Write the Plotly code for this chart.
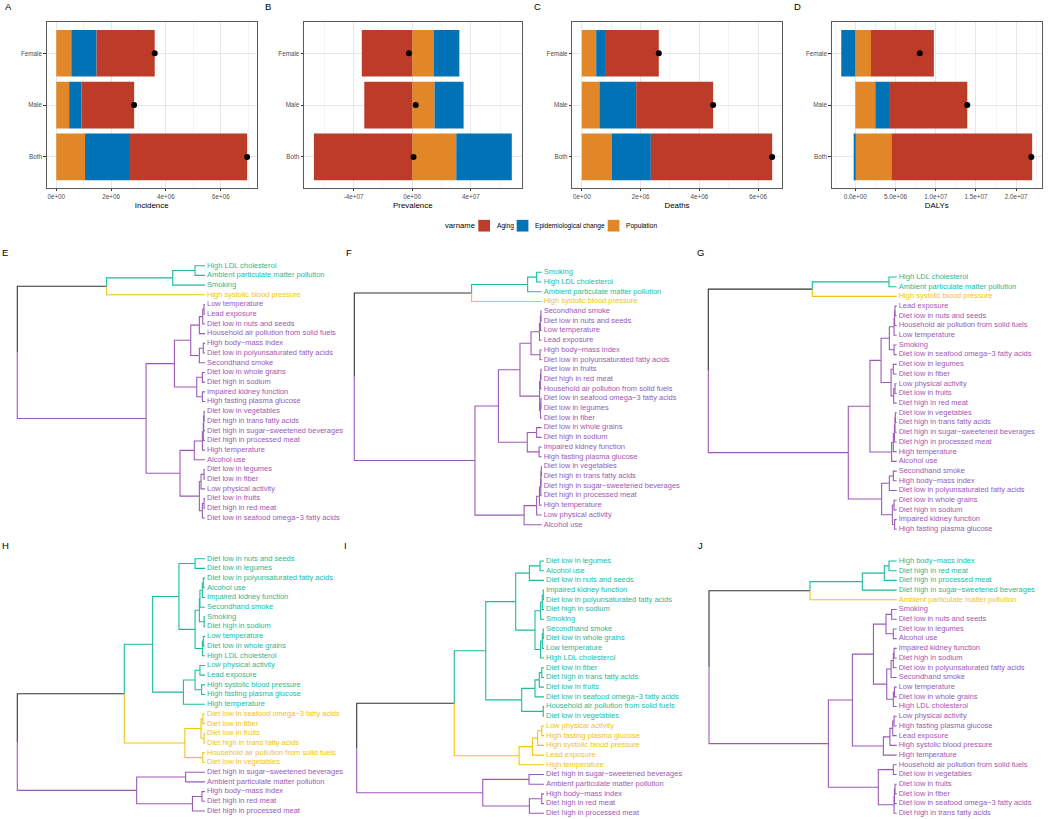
import plotly.graph_objects as go

W, H = 1052, 819
FONT = "Liberation Sans, Arial, Helvetica, sans-serif"

# ---------------- data: decomposition bars ----------------
sexes = ["Both", "Male", "Female"]
component_names = ["Population", "Epidemiological change", "Aging"]
component_colors = ["#E18727", "#0072B5", "#BC3C29"]
legend_names = ["Aging", "Epidemiological change", "Population"]

inc_pop = [1.05e6, 0.47e6, 0.55e6]
inc_epi = [1.64e6, 0.45e6, 0.92e6]
inc_aging = [4.27e6, 1.92e6, 2.12e6]

prev_pop = [3.01e7, 1.53e7, 1.46e7]
prev_epi = [3.79e7, 1.98e7, 1.76e7]
prev_aging = [-6.71e7, -3.27e7, -3.44e7]

death_pop = [1.02e6, 0.60e6, 0.49e6]
death_epi = [1.33e6, 1.25e6, 0.33e6]
death_aging = [4.13e6, 2.62e6, 1.80e6]

daly_pop = [4.49e6, 2.49e6, 1.95e6]
daly_epi = [-0.10e6, 1.70e6, -1.75e6]
daly_aging = [1.75e7, 9.73e6, 7.82e6]

measure_titles = ["Incidence", "Prevalence", "Deaths", "DALYs"]
inc_ticks = [0, 2e6, 4e6, 6e6]
inc_ticklabels = ["0e+00", "2e+06", "4e+06", "6e+06"]
prev_ticks = [-4e7, 0, 4e7]
prev_ticklabels = ["-4e+07", "0e+00", "4e+07"]
death_ticks = [0, 2e6, 4e6, 6e6]
death_ticklabels = ["0e+00", "2e+06", "4e+06", "6e+06"]
daly_ticks = [0, 5e6, 1e7, 1.5e7, 2e7]
daly_ticklabels = ["0.0e+00", "5.0e+06", "1.0e+07", "1.5e+07", "2.0e+07"]

# ---------------- data: dendrograms (height, upper, lower) ----------------
E_tree = [100,
    [52.4, [17.2, [5.3, "High LDL cholesterol", "Ambient particulate matter pollution"], "Smoking"],
     "High systolic blood pressure"],
    [31.4,
     [16.3,
      [7.6,
       [3.0, [1.2, [0.5, "Low temperature", "Lead exposure"], "Diet low in nuts and seeds"],
        "Household air pollution from solid fuels"],
       [3.0, [0.9, "High body\u2212mass index", "Diet low in polyunsaturated fatty acids"], "Secondhand smoke"]],
      [4.4, [1.4, "Diet low in whole grains", "Diet high in sodium"],
       [1.4, "Impaired kidney function", "High fasting plasma glucose"]]],
     [13.3,
      [5.7, [1.4, [0.9, [0.7, [0.5, "Diet low in vegetables", "Diet high in trans fatty acids"],
                          "Diet high in sugar\u2212sweetened beverages"], "Diet high in processed meat"],
             "High temperature"], "Alcohol use"],
      [3.0, [2.1, [0.5, "Diet low in legumes", "Diet low in fiber"], "Low physical activity"],
       [1.4, [0.5, "Diet low in fruits", "Diet high in red meat"], "Diet low in seafood omega\u22123 fatty acids"]]]]]

F_tree = [100,
    [37.4, [7.5, [2.7, "Smoking", "High LDL cholesterol"], "Ambient particulate matter pollution"],
     "High systolic blood pressure"],
    [35.6,
     [23.1,
      [11.6,
       [5.7, [1.2, [0.7, [0.4, "Secondhand smoke", "Diet low in nuts and seeds"], "Low temperature"], "Lead exposure"],
        [0.9, "High body\u2212mass index", "Diet low in polyunsaturated fatty acids"]],
       [1.1, [0.7, [0.4, "Diet low in fruits", "Diet high in red meat"], "Household air pollution from solid fuels"],
        [0.7, [0.4, "Diet low in seafood omega\u22123 fatty acids", "Diet low in legumes"], "Diet low in fiber"]]],
      [7.7, [2.7, "Diet low in whole grains", "Diet high in sodium"],
       [1.4, "Impaired kidney function", "High fasting plasma glucose"]]],
     [9.4, [2.7, [1.2, [0.5, [0.4, [0.2, "Diet low in vegetables", "Diet high in trans fatty acids"],
                                 "Diet high in sugar\u2212sweetened beverages"], "Diet high in processed meat"],
                  "High temperature"], "Low physical activity"], "Alcohol use"]]]

G_tree = [100,
    [44.8, [4.1, "High LDL cholesterol", "Ambient particulate matter pollution"], "High systolic blood pressure"],
    [25.7,
     [14.2,
      [8.3,
       [3.9, [1.4, [1.1, [0.9, "Lead exposure", "Diet low in nuts and seeds"],
                    "Household air pollution from solid fuels"], "Low temperature"],
        [1.4, "Smoking", "Diet low in seafood omega\u22123 fatty acids"]],
       [3.0, [1.8, "Diet low in legumes", "Diet low in fiber"],
        [1.6, [0.9, "Low physical activity", "Diet low in fruits"], "Diet high in red meat"]]],
      [2.7, [1.8, [1.2, [0.9, [0.7, "Diet low in vegetables", "Diet high in trans fatty acids"],
                          "Diet high in sugar\u2212sweetened beverages"], "Diet high in processed meat"],
             "High temperature"], "Alcohol use"]],
     [8.0, [3.9, [1.8, "Secondhand smoke", "High body\u2212mass index"], "Diet low in polyunsaturated fatty acids"],
      [2.3, [1.4, "Diet low in whole grains", "Diet high in sodium"],
       [1.1, "Impaired kidney function", "High fasting plasma glucose"]]]]]

H_tree = [100,
    [43.0,
     [27.9,
      [13.9, [5.3, "Diet low in nuts and seeds", "Diet low in legumes"],
       [5.3,
        [3.0, [2.7, [1.4, [0.9, "Diet low in polyunsaturated fatty acids", "Alcohol use"],
                     "Impaired kidney function"], "Secondhand smoke"],
         [0.5, "Smoking", "Diet high in sodium"]],
        [1.4, [0.9, "Low temperature", "Diet low in whole grains"], "High LDL cholesterol"]]],
      [11.5, [5.3, [2.7, "Low physical activity", "Lead exposure"],
              [1.8, "High systolic blood pressure", "High fasting plasma glucose"]], "High temperature"]],
     [10.7, [2.1, [1.1, "Diet low in seafood omega\u22123 fatty acids", "Diet low in fiber"],
             [0.5, "Diet low in fruits", "Diet high in trans fatty acids"]],
      [1.2, "Household air pollution from solid fuels", "Diet low in vegetables"]]],
    [36.4, [10.3, "Diet high in sugar\u2212sweetened beverages", "Ambient particulate matter pollution"],
     [6.7, [1.6, "High body\u2212mass index", "Diet high in red meat"], "Diet high in processed meat"]]]

I_tree = [100,
    [47.9,
     [31.1,
      [15.1, [7.8, [2.1, "Diet low in legumes", "Alcohol use"], "Diet low in nuts and seeds"],
       [4.8,
        [1.8, [0.9, [0.4, "Impaired kidney function", "Diet low in polyunsaturated fatty acids"],
               "Diet high in sodium"], "Smoking"],
        [1.8, [0.9, [0.4, "Secondhand smoke", "Diet low in whole grains"], "Low temperature"],
         "High LDL cholesterol"]]],
      [11.9, [4.8, [2.5, [1.2, "Diet low in fiber", "Diet high in trans fatty acids"], "Diet low in fruits"],
              "Diet low in seafood omega\u22123 fatty acids"],
       [0.4, "Household air pollution from solid fuels", "Diet low in vegetables"]]],
     [13.3, [6.2, [3.4, [1.2, "Low physical activity", "High fasting plasma glucose"],
                   "High systolic blood pressure"], "Lead exposure"], "High temperature"]],
    [32.7, [8.0, "Diet high in sugar\u2212sweetened beverages", "Ambient particulate matter pollution"],
     [7.8, [1.2, "High body\u2212mass index", "Diet high in red meat"], "Diet high in processed meat"]]]

J_tree = [100,
    [46.2, [18.3, [6.6, [4.1, "High body\u2212mass index", "Diet high in red meat"], "Diet high in processed meat"],
            "Diet high in sugar\u2212sweetened beverages"], "Ambient particulate matter pollution"],
    [36.4,
     [23.6,
      [12.4,
       [5.7, [2.7, "Smoking", "Diet low in nuts and seeds"], [1.8, "Diet low in legumes", "Alcohol use"]],
       [5.3,
        [3.0, [1.8, [1.4, "Impaired kidney function", "Diet high in sodium"],
               "Diet low in polyunsaturated fatty acids"], "Secondhand smoke"],
        [1.8, [1.2, "Low temperature", "Diet low in whole grains"], "High LDL cholesterol"]]],
      [7.1, [3.6, [2.1, [1.4, "Low physical activity", "High fasting plasma glucose"], "Lead exposure"],
             "High systolic blood pressure"], "High temperature"]],
     [9.8, [1.8, "Household air pollution from solid fuels", "Diet low in vegetables"],
      [1.4, [1.2, [0.9, "Diet low in fruits", "Diet low in fiber"], "Diet low in seafood omega\u22123 fatty acids"],
       "Diet high in trans fatty acids"]]]]

# cluster sizes in leaf order (top to bottom): teal, yellow, purple
E_clusters = [3, 1, 23]
F_clusters = [3, 1, 23]
G_clusters = [2, 1, 24]
H_clusters = [16, 6, 5]
I_clusters = [17, 5, 5]
J_clusters = [4, 1, 22]
cluster_colors = ["#1ABC9C", "#F1C40F", "#9B59B6"]
mixed_color = "#333333"

# ---------------- figure ----------------
fig = go.Figure()
layout = dict(width=W, height=H, margin=dict(l=0, r=0, t=0, b=0),
              paper_bgcolor="white", plot_bgcolor="white", showlegend=False,
              barmode="relative", font=dict(family=FONT, color="black"))
annotations = []
shapes = []

def xd(a, b):
    return [a / W, b / W]

def yd(top, bottom):
    return [1 - bottom / H, 1 - top / H]

# ---- bar panels ----
bar_panels = [
    (inc_pop, inc_epi, inc_aging, inc_ticks, inc_ticklabels, (46.7, 256.7), "A", 8),
    (prev_pop, prev_epi, prev_aging, prev_ticks, prev_ticklabels, (304.0, 521.7), "B", 268),
    (death_pop, death_epi, death_aging, death_ticks, death_ticklabels, (572.3, 781.7), "C", 537),
    (daly_pop, daly_epi, daly_aging, daly_ticks, daly_ticklabels, (831.7, 1041.7), "D", 797),
]
bar_top, bar_bottom = 22.2, 188.0

for i, (pop, epi, aging, ticks, ticklabels, (px0, px1), letter, lx) in enumerate(bar_panels):
    n = i + 1
    sfx = "" if n == 1 else str(n)
    comps = [pop, epi, aging]
    for name, vals, col in zip(component_names, comps, component_colors):
        fig.add_trace(go.Bar(x=vals, y=sexes, orientation="h", width=0.9, name=name,
                             marker=dict(color=col, line=dict(width=0)),
                             xaxis="x" + sfx, yaxis="y" + sfx, showlegend=False))
    totals = [a + b + c for a, b, c in zip(pop, epi, aging)]
    fig.add_trace(go.Scatter(x=totals, y=sexes, mode="markers",
                             marker=dict(color="black", size=6),
                             xaxis="x" + sfx, yaxis="y" + sfx, showlegend=False))
    pos_tot = [sum(v for v in col_vals if v > 0) for col_vals in zip(*comps)]
    neg_tot = [sum(v for v in col_vals if v < 0) for col_vals in zip(*comps)]
    dmin = min(min(neg_tot), 0)
    dmax = max(pos_tot)
    pad = 0.05 * (dmax - dmin)
    rng = [dmin - pad, dmax + pad]
    step = ticks[1] - ticks[0]
    minors = []
    t = ticks[0] - step / 2
    while t < rng[1]:
        if t > rng[0]:
            minors.append(t)
        t += step
    layout["xaxis" + sfx] = dict(
        domain=xd(px0, px1), anchor="y" + sfx, range=rng,
        tickvals=ticks, ticktext=ticklabels, ticks="outside", ticklen=2.5, tickwidth=0.7,
        tickcolor="#333333", tickfont=dict(size=6.3, color="#4D4D4D"),
        showgrid=True, gridcolor="#E6E6E6", gridwidth=0.7, zeroline=False,
        minor=dict(tickvals=minors, showgrid=True, gridcolor="#F3F3F3", gridwidth=0.5, ticks=""),
        showline=True, mirror=True, linecolor="#5A5A5A", linewidth=0.9,
        title=dict(text=measure_titles[i], font=dict(size=7.9, color="black"), standoff=3))
    layout["yaxis" + sfx] = dict(
        domain=yd(bar_top, bar_bottom), anchor="x" + sfx, type="category",
        categoryorder="array", categoryarray=sexes, range=[-0.6, 2.6],
        ticks="outside", ticklen=2.5, tickwidth=0.7, tickcolor="#333333",
        tickfont=dict(size=6.3, color="#4D4D4D"),
        showgrid=True, gridcolor="#E6E6E6", gridwidth=0.7, zeroline=False,
        showline=True, mirror=True, linecolor="#5A5A5A", linewidth=0.9)
    annotations.append(dict(text=letter, x=lx / W, y=1 - 7 / H, xref="paper", yref="paper",
                            showarrow=False, xanchor="center", yanchor="middle",
                            font=dict(size=9.5, color="black")))

# ---- custom legend ----
leg_y = 225.7
annotations.append(dict(text="varname", x=442.7 / W, y=1 - leg_y / H, xref="paper", yref="paper",
                        showarrow=False, xanchor="left", yanchor="middle", font=dict(size=7.7)))
leg_boxes = [(478.3, 495.0), (516.7, 532.7), (607.7, 624.3)]
for name, (bx, tx) in zip(legend_names, leg_boxes):
    col = component_colors[component_names.index(name)]
    shapes.append(dict(type="rect", xref="paper", yref="paper",
                       x0=bx / W, x1=(bx + 11.7) / W, y0=1 - (leg_y + 5.85) / H, y1=1 - (leg_y - 5.85) / H,
                       fillcolor=col, line=dict(width=0)))
    annotations.append(dict(text=name, x=tx / W, y=1 - leg_y / H, xref="paper", yref="paper",
                            showarrow=False, xanchor="left", yanchor="middle", font=dict(size=6.6)))

# ---- dendrograms ----
def build(tree):
    leaves = []
    def walk(node):
        if isinstance(node, str):
            leaves.append(node)
            return {"h": 0.0, "y": float(len(leaves)), "idx": [len(leaves)], "kids": []}
        h, a, b = node
        ka, kb = walk(a), walk(b)
        return {"h": h, "y": (ka["y"] + kb["y"]) / 2, "idx": ka["idx"] + kb["idx"], "kids": [ka, kb]}
    return walk(tree), leaves

dendro_panels = [
    (E_tree, E_clusters, (17.3, 205.0), (265.7, 518.0), "E", (5, 252)),
    (F_tree, F_clusters, (354.3, 541.7), (272.3, 524.7), "F", (349, 252)),
    (G_tree, G_clusters, (708.3, 896.7), (277.0, 529.3), "G", (700, 252)),
    (H_tree, H_clusters, (17.3, 205.0), (558.7, 811.0), "H", (5, 545)),
    (I_tree, I_clusters, (356.7, 544.0), (561.0, 813.3), "I", (345, 545)),
    (J_tree, J_clusters, (709.0, 896.7), (561.0, 813.3), "J", (700, 545)),
]
label_gap_px = 2.0

for k, (tree, clusters, (rx, lx), (ty, by), letter, (ax_, ay_)) in enumerate(dendro_panels):
    n = 5 + k
    sfx = str(n)
    root, leaves = build(tree)
    nleaf = len(leaves)
    leaf_col = []
    for ci, cnt in enumerate(clusters):
        leaf_col += [cluster_colors[ci]] * cnt

    def node_color(nd):
        cols = set(leaf_col[i - 1] for i in nd["idx"])
        return cols.pop() if len(cols) == 1 else mixed_color

    segs = {}
    stack = [root]
    while stack:
        nd = stack.pop()
        for kid in nd["kids"]:
            c = node_color(kid)
            xs, ys = segs.setdefault(c, ([], []))
            xs += [nd["h"], nd["h"], kid["h"], None]
            ys += [nd["y"], kid["y"], kid["y"], None]
            stack.append(kid)
    for c, (xs, ys) in segs.items():
        fig.add_trace(go.Scatter(x=xs, y=ys, mode="lines", line=dict(color=c, width=1.1),
                                 xaxis="x" + sfx, yaxis="y" + sfx, showlegend=False,
                                 hoverinfo="skip", cliponaxis=False))
    span = lx - rx
    gap_units = label_gap_px * root["h"] / span
    for c in cluster_colors:
        ids = [i + 1 for i in range(nleaf) if leaf_col[i] == c]
        if not ids:
            continue
        fig.add_trace(go.Scatter(x=[-gap_units] * len(ids), y=ids, mode="text",
                                 text=[leaves[i - 1] for i in ids], textposition="middle right",
                                 textfont=dict(size=7.5, color=c, family=FONT),
                                 xaxis="x" + sfx, yaxis="y" + sfx, showlegend=False,
                                 cliponaxis=False, hoverinfo="skip"))
    pad = 2
    sp = (by - ty) / (nleaf - 1)
    layout["xaxis" + sfx] = dict(domain=xd(rx - pad * span / 100, lx + pad * span / 100), anchor="y" + sfx,
                                 range=[root["h"] + pad, -pad],
                                 visible=False, showgrid=False, zeroline=False)
    layout["yaxis" + sfx] = dict(domain=yd(ty - 0.5 * sp, by + 0.5 * sp), anchor="x" + sfx,
                                 range=[nleaf + 0.5, 0.5], visible=False, showgrid=False, zeroline=False)
    annotations.append(dict(text=letter, x=ax_ / W, y=1 - ay_ / H, xref="paper", yref="paper",
                            showarrow=False, xanchor="center", yanchor="middle",
                            font=dict(size=9.5, color="black")))

layout["annotations"] = annotations
layout["shapes"] = shapes
fig.update_layout(**layout)
fig.write_html("out.html", config={"displayModeBar": False},
               post_script="document.body.style.margin='0';document.body.style.padding='0';"
                           "document.documentElement.style.overflow='hidden';")
